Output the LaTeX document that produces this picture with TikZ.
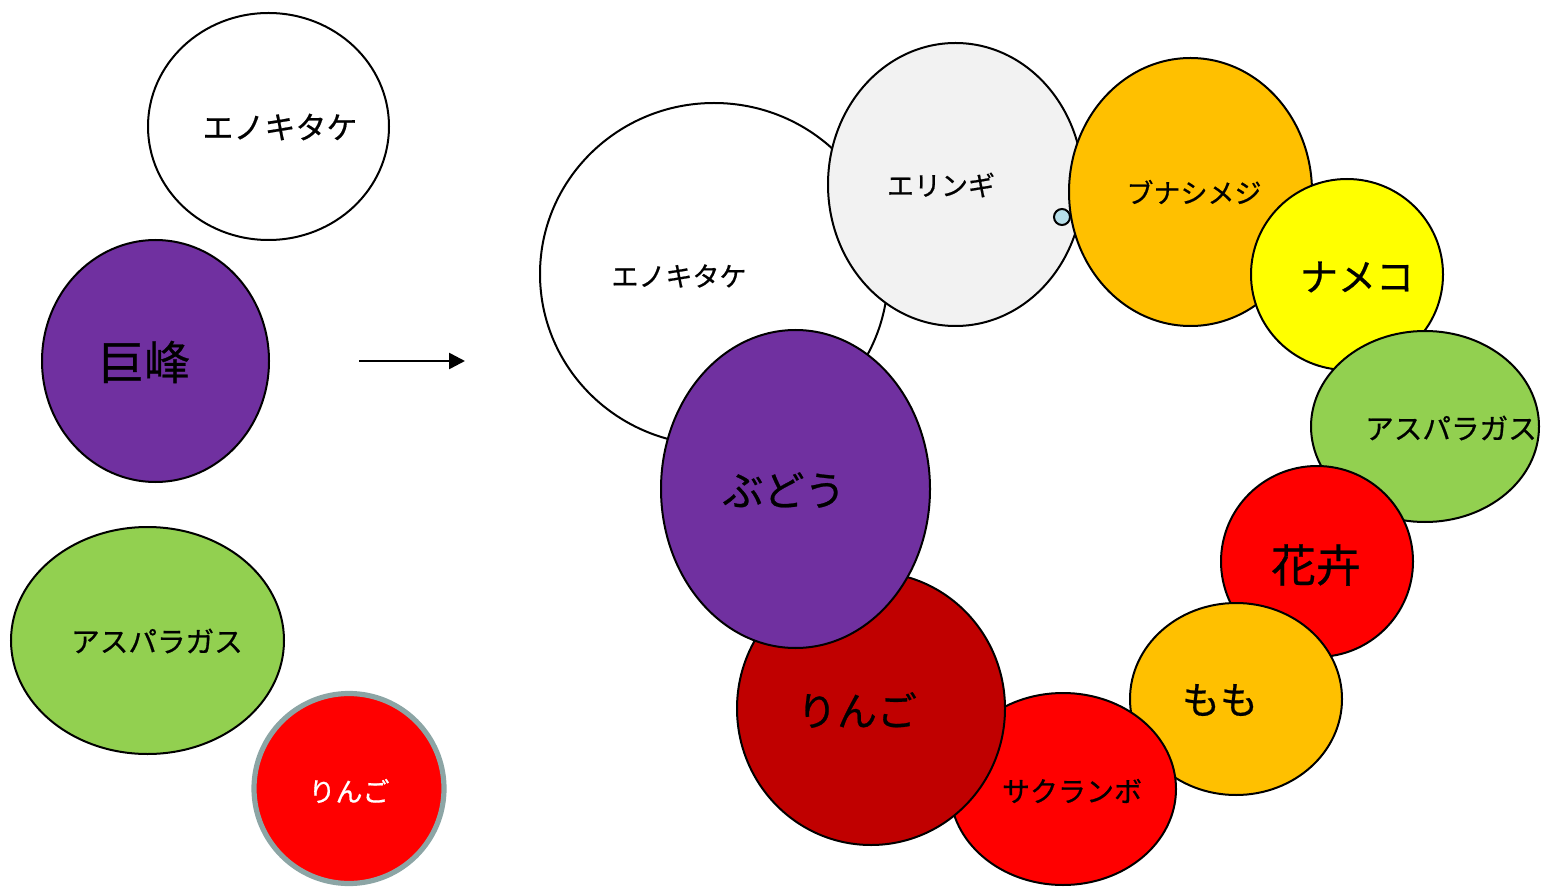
\documentclass[tikz,border=0pt]{standalone}
\usepackage{fontspec}
\setmainfont{Noto Sans CJK JP}[FakeBold=0.6]
\usetikzlibrary{arrows.meta}
\definecolor{purp}{HTML}{7030A0}
\definecolor{grn}{HTML}{92D050}
\definecolor{org}{HTML}{FFC000}
\definecolor{dred}{HTML}{C00000}
\definecolor{lgray}{HTML}{F2F2F2}
\definecolor{lblue}{HTML}{B7DEE8}
\definecolor{yel}{HTML}{FFFF00}
\definecolor{rd}{HTML}{FF0000}
\definecolor{rim}{RGB}{140,165,165}
\tikzset{
  blob/.style={draw=black, line width=1pt},
  lbl/.style={inner sep=0pt, font=\fontsize{13.5pt}{16pt}\selectfont},
  big/.style={inner sep=0pt, font=\fontsize{20pt}{24pt}\selectfont},
}
\begin{document}
\begin{tikzpicture}[x=0.5pt,y=-0.5pt]
\useasboundingbox (0,0) rectangle (1541,887);
% left column
\path[blob, fill=white] (268.5,126.5) ellipse [x radius=120.5, y radius=113.5];
\node[lbl, font=\fontsize{15.5pt}{18pt}\selectfont] (enoL) at (280,127) {エノキタケ};
\path[blob, fill=purp] (155.5,361) ellipse [x radius=113.5, y radius=121];
\node[big, font=\fontsize{23pt}{27pt}\selectfont] (kyoho) at (144,362) {巨峰};
\path[blob, fill=grn] (147.5,640.5) ellipse [x radius=136.5, y radius=113.5];
\node[lbl, font=\fontsize{14.3pt}{17pt}\selectfont] (aspL) at (157,641) {アスパラガス};
\path[draw=rim, line width=2.6pt, fill=rd] (349,788.5) ellipse [x radius=95, y radius=95];
\node[lbl, text=white] (ringoL) at (349,791) {りんご};
% arrow
\coordinate (arS) at (359,361);
\coordinate (arE) at (465,361);
\draw[line width=1.3pt, -{Triangle[length=8pt,width=8pt]}] (arS) -- (arE);
% right group
\path[blob, fill=white] (714,274) ellipse [x radius=174, y radius=171];
\node[lbl] (enoR) at (679,276) {エノキタケ};
\path[blob, fill=lgray] (955.5,184.5) ellipse [x radius=127.5, y radius=141.5];
\node[lbl] (eringi) at (941,185) {エリンギ};
\path[blob, fill=lblue] (1062,217) circle [radius=8];
\path[blob, fill=org] (1190.5,192) ellipse [x radius=121.5, y radius=134];
\node[lbl] (buna) at (1194,192) {ブナシメジ};
\path[blob, fill=yel] (1347,274.5) ellipse [x radius=96, y radius=95.5];
\node[big, font=\fontsize{19pt}{23pt}\selectfont] (nameko) at (1357,277) {ナメコ};
\path[blob, fill=grn] (1425,426.5) ellipse [x radius=114, y radius=95.5];
\node[lbl, font=\fontsize{14.3pt}{17pt}\selectfont] (aspR) at (1451,428) {アスパラガス};
\path[blob, fill=rd] (1317,561.5) ellipse [x radius=96, y radius=95.5];
\node[big, font=\fontsize{22.5pt}{26pt}\selectfont] (kaki) at (1316,565) {花卉};
\path[blob, fill=org] (1236,699) ellipse [x radius=106, y radius=96];
\node[big, font=\fontsize{19pt}{23pt}\selectfont] (momo) at (1220,700) {もも};
\path[blob, fill=rd] (1063,789) ellipse [x radius=113, y radius=96];
\node[lbl, font=\fontsize{14pt}{17pt}\selectfont] (sakura) at (1072,791) {サクランボ};
\path[blob, fill=dred] (871,708.5) ellipse [x radius=134, y radius=136.5];
\node[big] (ringoR) at (857,710) {りんご};
\path[blob, fill=purp] (795.5,489) ellipse [x radius=134.5, y radius=159];
\node[big, font=\fontsize{20.5pt}{24pt}\selectfont] (budo) at (784,490) {ぶどう};
\end{tikzpicture}
\end{document}
